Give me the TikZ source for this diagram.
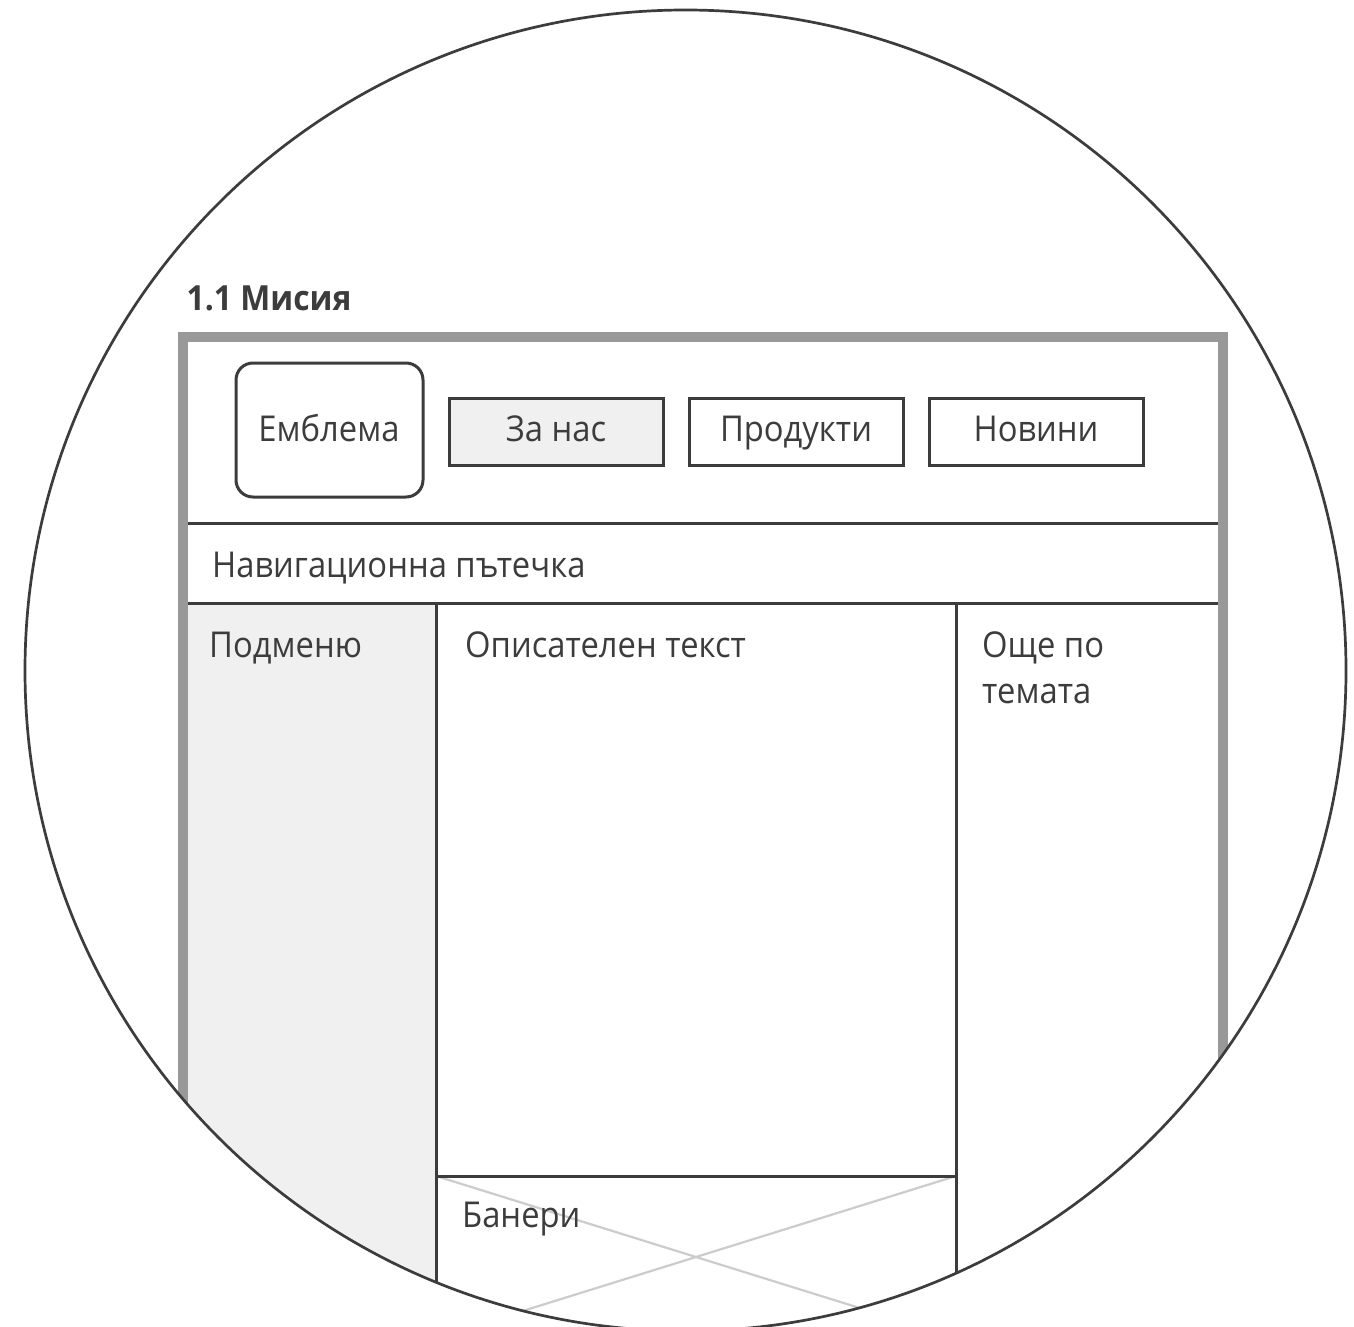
\documentclass[tikz,border=0pt]{standalone}
\usepackage{fontspec}
\setmainfont{Open Sans}[FakeStretch=0.92]
\definecolor{ink}{HTML}{3C3C3C}
\definecolor{frame}{HTML}{999999}
\definecolor{pale}{HTML}{F0F0F0}
\definecolor{crossc}{HTML}{CCCCCC}
\tikzset{
  lbl/.style={text=ink,font=\fontsize{35.6}{35.6}\selectfont,inner sep=0pt,anchor=base west},
  ctr/.style={text=ink,font=\fontsize{35.6}{35.6}\selectfont,inner sep=0pt,anchor=base},
  btn/.style={draw=ink,line width=3pt,minimum width=214pt,minimum height=67pt,inner sep=0pt},
  rule/.style={draw=ink,line width=3pt},
}
\begin{document}
\begin{tikzpicture}[x=1pt,y=-1pt]
\useasboundingbox (0,0) rectangle (1354,1327);
\fill[white] (0,0) rectangle (1354,1327);
\begin{scope}
\clip (685.5,670.5) circle (660.5pt);
\fill[pale] (188,603) rectangle (436,1340);
\draw[frame,line width=10pt,miter limit=10] (183,1400) -- (183,337) -- (1223,337) -- (1223,1400);
\coordinate (bl) at (436,1176);
\coordinate (br) at (956,1176);
\coordinate (bbl) at (436,1338);
\coordinate (bbr) at (956,1338);
\draw[crossc,line width=2.2pt] (bl) -- (bbr) (br) -- (bbl);
\coordinate (a1) at (188,523); \coordinate (a2) at (1218,523);
\coordinate (c1) at (188,603); \coordinate (c2) at (1218,603);
\coordinate (d1) at (436,603); \coordinate (d2) at (436,1340);
\coordinate (e1) at (956,603); \coordinate (e2) at (956,1340);
\draw[rule] (a1) -- (a2) (c1) -- (c2) (d1) -- (d2) (e1) -- (e2) (bl) -- (br);
\end{scope}
\node[draw=ink,line width=3pt,rounded corners=17pt,minimum width=187pt,minimum height=134pt,inner sep=0pt] (logo) at (329.5,430) {};
\node[btn,fill=pale] (about) at (556,431.5) {};
\node[btn] (products) at (796,431.5) {};
\node[btn] (news) at (1036,431.5) {};
\node[ctr] (tlogo) at (329,441) {Емблема};
\node[ctr] (tabout) at (556,441) {За нас};
\node[ctr] (tprod) at (796,441) {Продукти};
\node[ctr] (tnews) at (1036,441) {Новини};
\node[lbl] (crumb) at (212,577) {Навигационна пътечка};
\node[lbl] (sub) at (209,657) {Подменю};
\node[lbl] (desc) at (465,657) {Описателен текст};
\node[lbl] (more1) at (982,657) {Още по};
\node[lbl] (more2) at (982,703) {темата};
\node[lbl] (ban) at (462,1227) {Банери};
\node[lbl,font=\fontsize{34.6}{34.6}\selectfont\bfseries] (title) at (186.5,310.5) {1.1 Мисия};
\draw[ink,line width=2.7pt] (685.5,670.5) circle (660.5pt);
\end{tikzpicture}
\end{document}
